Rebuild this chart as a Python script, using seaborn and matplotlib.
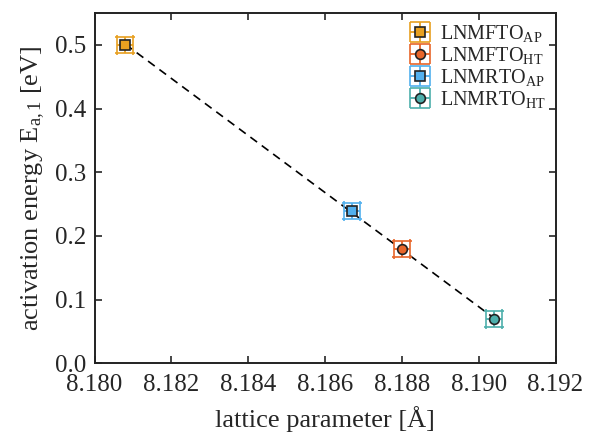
import numpy as np
import pandas as pd
import matplotlib
matplotlib.use("Agg")
import matplotlib.pyplot as plt
import seaborn as sns

samples = ["LNMFTO$_\\mathrm{AP}$", "LNMFTO$_\\mathrm{HT}$", "LNMRTO$_\\mathrm{AP}$", "LNMRTO$_\\mathrm{HT}$"]
lattice = [8.1808, 8.1880, 8.1867, 8.1904]
energy = [0.500, 0.179, 0.239, 0.069]
lattice_err = [0.00021, 0.00021, 0.00021, 0.00021]
energy_err = [0.0125, 0.0125, 0.0125, 0.0125]
markers = ["s", "o", "s", "o"]
colors = ["#E8A020", "#E8662A", "#52B0EE", "#4DAFAC"]

sns.set_style("ticks")
plt.rcParams["font.family"] = ["Liberation Serif", "DejaVu Serif"]
plt.rcParams["mathtext.fontset"] = "custom"
plt.rcParams["mathtext.rm"] = "Liberation Serif"
plt.rcParams["mathtext.it"] = "Liberation Serif:italic"

fig, ax = plt.subplots(figsize=(5.91, 4.34), dpi=100)
fig.subplots_adjust(left=0.16, right=0.94, bottom=0.163, top=0.97)

# linear fit (dashed)
coef = np.polyfit(lattice, energy, 1)
xfit = np.array([min(lattice), max(lattice)])
fit_df = pd.DataFrame({"x": xfit, "y": np.polyval(coef, xfit)})
sns.lineplot(data=fit_df, x="x", y="y", ax=ax, color="black", lw=1.2,
             linestyle=(0, (5, 3.5)), zorder=1)

for name, x, y, xe, ye, m, c in zip(samples, lattice, energy, lattice_err, energy_err, markers, colors):
    ax.errorbar(x, y, xerr=xe, yerr=ye, fmt=m, color=c, ecolor=c,
                mfc=c, mec="#222222", mew=1.2, ms=7, capsize=7, elinewidth=1.3,
                capthick=1.3, label=name, zorder=3)

ax.set_xlim(8.180, 8.192)
ax.set_ylim(0.0, 0.55)
ax.set_xticks([8.180, 8.182, 8.184, 8.186, 8.188, 8.190, 8.192])
ax.set_xticklabels(["8.180", "8.182", "8.184", "8.186", "8.188", "8.190", "8.192"])
ax.set_yticks([0.0, 0.1, 0.2, 0.3, 0.4, 0.5])
ax.set_yticklabels(["0.0", "0.1", "0.2", "0.3", "0.4", "0.5"])
ax.tick_params(axis="both", direction="in", top=True, right=True, length=5, width=1.2,
               labelsize=18)
ax.tick_params(axis="x", pad=8)
ax.tick_params(axis="y", pad=6)
for s in ax.spines.values():
    s.set_linewidth(1.4)
    s.set_color("#222222")

ax.set_xlabel("lattice parameter [Å]", fontsize=19, labelpad=7)
ax.set_ylabel("activation energy E$_\\mathrm{a,1}$ [eV]", fontsize=19, labelpad=6)

ax.legend(loc="upper right", frameon=False, fontsize=14.5, handlelength=1.4,
          handletextpad=0.3, borderaxespad=0.1, labelspacing=0.05)

fig.savefig("out.png", dpi=100)
